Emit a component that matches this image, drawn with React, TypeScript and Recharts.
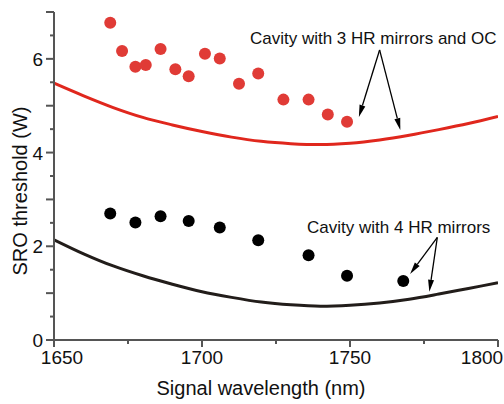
import {
  ComposedChart, Line, Scatter, XAxis, YAxis, ReferenceLine, ReferenceDot,
} from 'recharts';

// measured thresholds (W) vs signal wavelength (nm)
const ocWavelength = [1669, 1673, 1677.5, 1681, 1686, 1691, 1695.5, 1701, 1706, 1712.5, 1719, 1727.5, 1736, 1742.5, 1749];
const ocThreshold = [6.77, 6.17, 5.83, 5.87, 6.21, 5.78, 5.63, 6.11, 6.01, 5.47, 5.69, 5.13, 5.13, 4.81, 4.66];

const hrWavelength = [1669, 1677.5, 1686, 1695.5, 1706, 1719, 1736, 1749, 1768];
const hrThreshold = [2.7, 2.51, 2.64, 2.54, 2.4, 2.13, 1.81, 1.37, 1.26];

// calculated curves
const curveWavelength = [1650, 1660, 1670, 1680, 1690, 1700, 1710, 1720, 1730, 1740, 1750, 1760, 1770, 1780, 1790, 1800];
const ocCurve = [5.48, 5.21, 4.96, 4.75, 4.59, 4.45, 4.33, 4.24, 4.19, 4.17, 4.2, 4.27, 4.37, 4.49, 4.62, 4.77];
const hrCurve = [2.14, 1.84, 1.58, 1.37, 1.19, 1.03, 0.91, 0.81, 0.75, 0.72, 0.74, 0.79, 0.87, 0.98, 1.1, 1.22];

const xTicks = [1650, 1675, 1700, 1725, 1750, 1775, 1800];
const yTicks = [0, 0.5, 1, 1.5, 2, 2.5, 3, 3.5, 4, 4.5, 5, 5.5, 6, 6.5, 7];

const ocLabel = 'Cavity with 3 HR mirrors and OC';
const hrLabel = 'Cavity with 4 HR mirrors';

const FONT = '"Liberation Sans", Arial, sans-serif';
const AXIS = '#555';
const RED = '#e0271d';
const RED_DOT = '#e03b36';
const BLACK_LINE = '#221d1a';

const ocPoints = ocWavelength.map((x, i) => ({ x, y: ocThreshold[i] }));
const hrPoints = hrWavelength.map((x, i) => ({ x, y: hrThreshold[i] }));
const ocLine = curveWavelength.map((x, i) => ({ x, y: ocCurve[i] }));
const hrLine = curveWavelength.map((x, i) => ({ x, y: hrCurve[i] }));

const XTick = (p: any) => {
  const v = p.payload.value;
  const major = v % 50 === 0;
  const shift = v === 1650 ? 8 : v === 1800 ? -16 : 0;
  return (
    <g>
      <line x1={p.x} x2={p.x} y1={p.y} y2={p.y + (major ? 7 : 4)} stroke={AXIS} strokeWidth={2} />
      {major && (
        <text x={p.x + shift} y={p.y + 24} textAnchor="middle" fontSize={19} fontFamily={FONT} fill="#111">{v}</text>
      )}
    </g>
  );
};

const YTick = (p: any) => {
  const v = p.payload.value;
  const major = Number.isInteger(v);
  return (
    <g>
      <line x1={p.x} x2={p.x - (major ? 8 : 4)} y1={p.y} y2={p.y} stroke={AXIS} strokeWidth={2} />
      {major && v % 2 === 0 && (
        <text x={p.x - 11} y={p.y + 7} textAnchor="end" fontSize={19} fontFamily={FONT} fill="#111">{v}</text>
      )}
    </g>
  );
};

const Arrow = (p: any) => {
  const { x1, y1, x2, y2 } = p;
  const a = Math.atan2(y2 - y1, x2 - x1);
  const len = 12, half = 3;
  const bx = x2 - len * Math.cos(a), by = y2 - len * Math.sin(a);
  const nx = -Math.sin(a) * half, ny = Math.cos(a) * half;
  return (
    <g>
      <line x1={x1} y1={y1} x2={bx} y2={by} stroke="#000" strokeWidth={1.3} />
      <polygon points={`${x2},${y2} ${bx + nx},${by + ny} ${bx - nx},${by - ny}`} fill="#000" />
    </g>
  );
};

const note = (text: string) => (p: any) => (
  <text x={p.cx} y={p.cy} fontSize={17} fontFamily={FONT} fill="#111">{text}</text>
);

const dot = (color: string) => (p: any) => <circle cx={p.cx} cy={p.cy} r={6} fill={color} />;

export default function App() {
  return (
    <div style={{ position: 'absolute', left: 0, top: 0, width: 504, height: 404, background: '#fff' }}>
      <ComposedChart width={504} height={404} margin={{ top: 12, right: 6, left: 0, bottom: 0 }}>
        <XAxis
          type="number" dataKey="x" domain={[1650, 1800]} ticks={xTicks} allowDataOverflow
          height={64} tickSize={0} tickMargin={0} tick={<XTick />} interval={0}
          axisLine={{ stroke: AXIS, strokeWidth: 2 }}
          label={{
            content: (props: any) => {
              const vb = props.viewBox;
              return (
                <text x={vb.x + vb.width / 2 - 15} y={vb.y + 55} textAnchor="middle" fontSize={20} fontFamily={FONT} fill="#111">
                  Signal wavelength (nm)
                </text>
              );
            },
          }}
        />
        <YAxis
          type="number" dataKey="y" domain={[0, 7]} ticks={yTicks} allowDataOverflow
          width={54} tickSize={0} tickMargin={0} tick={<YTick />} interval={0}
          axisLine={{ stroke: AXIS, strokeWidth: 2 }}
          label={{
            content: (props: any) => {
              const vb = props.viewBox;
              const cx = vb.x + 20, cy = vb.y + vb.height / 2 + 15;
              return (
                <text x={cx} y={cy} transform={`rotate(-90 ${cx} ${cy})`} textAnchor="middle" dominantBaseline="central" fontSize={20} fontFamily={FONT} fill="#111">
                  SRO threshold (W)
                </text>
              );
            },
          }}
        />
        <Line data={ocLine} dataKey="y" type="monotone" stroke={RED} strokeWidth={3} dot={false} isAnimationActive={false} />
        <Line data={hrLine} dataKey="y" type="monotone" stroke={BLACK_LINE} strokeWidth={3} dot={false} isAnimationActive={false} />
        <Scatter data={ocPoints} dataKey="y" fill={RED_DOT} shape={dot(RED_DOT)} isAnimationActive={false} />
        <Scatter data={hrPoints} dataKey="y" fill="#000" shape={dot('#000')} isAnimationActive={false} />

        <ReferenceLine segment={[{ x: 1760, y: 6.19 }, { x: 1753, y: 4.76 }]} shape={Arrow} ifOverflow="visible" />
        <ReferenceLine segment={[{ x: 1760, y: 6.19 }, { x: 1767, y: 4.48 }]} shape={Arrow} ifOverflow="visible" />
        <ReferenceLine segment={[{ x: 1779.5, y: 2.19 }, { x: 1770.3, y: 1.41 }]} shape={Arrow} ifOverflow="visible" />
        <ReferenceLine segment={[{ x: 1779.5, y: 2.19 }, { x: 1776.8, y: 1.03 }]} shape={Arrow} ifOverflow="visible" />
        <ReferenceDot x={1716.2} y={6.32} r={0} shape={note(ocLabel)} ifOverflow="visible" />
        <ReferenceDot x={1735.5} y={2.28} r={0} shape={note(hrLabel)} ifOverflow="visible" />
      </ComposedChart>
    </div>
  );
}
